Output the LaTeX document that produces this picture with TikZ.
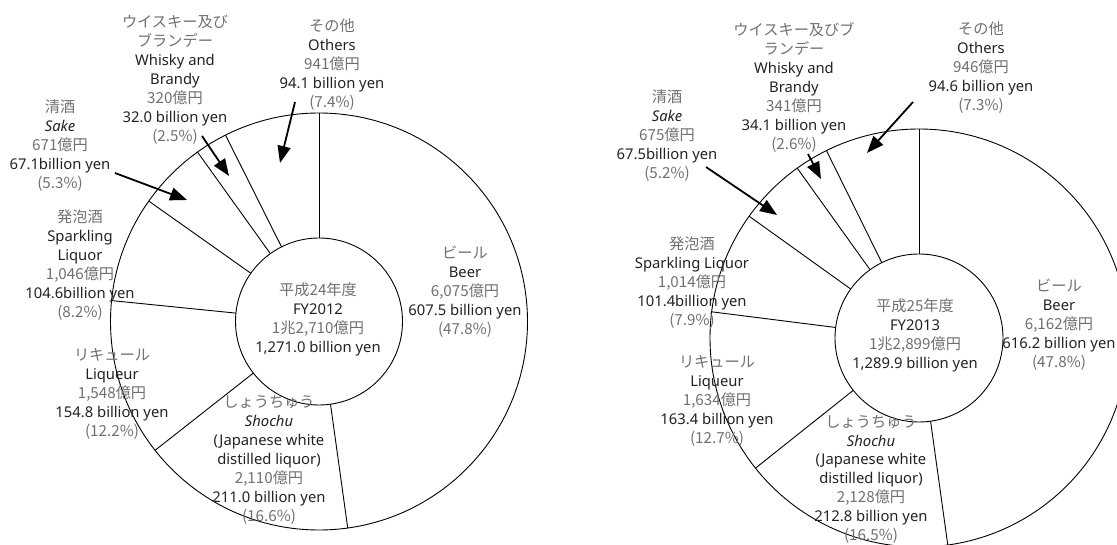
\documentclass[tikz,border=0pt]{standalone}
\usepackage{fontspec}
\setmainfont{Noto Sans}
\newfontfamily\cjk{Noto Sans CJK JP}
\usetikzlibrary{arrows.meta}
\definecolor{entext}{HTML}{222222}
\definecolor{jptext}{HTML}{707070}
\newcommand\jp[1]{{\cjk\fontsize{15.2}{19}\selectfont\color{jptext}#1}}
\begin{document}
\begin{tikzpicture}[x=1pt,y=1pt,
  lbl/.style={align=center, inner sep=0pt, font=\fontsize{14.8}{19}\selectfont, text=entext},
  ring/.style={line width=0.9pt},
  sep/.style={line width=0.9pt},
  callout/.style={line width=1.8pt, -{Triangle[length=17pt,width=13pt]}}]
\useasboundingbox (0,0) rectangle (1117,544);
\clip (0,0) rectangle (1117,544);

% ---------------- FY2012 ----------------
\coordinate (c1) at (319,222.5);
\draw[ring] (c1) circle[radius=208.5];
\draw[ring] (c1) circle[radius=83.5];
\foreach \a in {90,-82.08,-141.84,-185.76,-215.28,-234.36,-243.36}
  \draw[sep, shift={(c1)}] (\a:83.5) -- (\a:208.5);

\node[lbl] (center1) at (318,225) {\jp{平成24年度}\\FY2012\\\jp{1兆2,710億円}\\1,271.0 billion yen};
\node[lbl] (beer1) at (465,252.5) {\jp{ビール}\\Beer\\\jp{6,075億円}\\607.5 billion yen\\\jp{(47.8\%)}};
\node[lbl] (shochu1) at (269,84.5) {\jp{しょうちゅう}\\\textit{Shochu}\\(Japanese white\\distilled liquor)\\\jp{2,110億円}\\211.0 billion yen\\\jp{(16.6\%)}};
\node[lbl] (liqueur1) at (112,150.5) {\jp{リキュール}\\Liqueur\\\jp{1,548億円}\\154.8 billion yen\\\jp{(12.2\%)}};
\node[lbl] (spark1) at (80,279) {\jp{発泡酒}\\Sparkling\\Liquor\\\jp{1,046億円}\\104.6billion yen\\\jp{(8.2\%)}};
\node[lbl] (sake1) at (60,398) {\jp{清酒}\\\textit{Sake}\\\jp{671億円}\\67.1billion yen\\\jp{(5.3\%)}};
\node[lbl] (whisky1) at (175,464) {\jp{ウイスキー及び}\\\jp{ブランデー}\\Whisky and\\Brandy\\\jp{320億円}\\32.0 billion yen\\\jp{(2.5\%)}};
\node[lbl] (others1) at (332,479) {\jp{その他}\\Others\\\jp{941億円}\\94.1 billion yen\\\jp{(7.4\%)}};

\coordinate (sake1a) at (115,371);   \coordinate (sake1b) at (187,344);
\coordinate (whisky1a) at (202,408); \coordinate (whisky1b) at (229,368);
\coordinate (others1a) at (295,442); \coordinate (others1b) at (280,381);
\draw[callout] (sake1a) -- (sake1b);
\draw[callout] (whisky1a) -- (whisky1b);
\draw[callout] (others1a) -- (others1b);

% ---------------- FY2013 ----------------
\coordinate (c2) at (919,206);
\draw[ring] (c2) circle[radius=209];
\draw[ring] (c2) circle[radius=84];
\foreach \a in {90,-82.08,-141.48,-187.2,-215.64,-234.36,-243.72}
  \draw[sep, shift={(c2)}] (\a:84) -- (\a:209);

\node[lbl] (center2) at (915,209) {\jp{平成25年度}\\FY2013\\\jp{1兆2,899億円}\\1,289.9 billion yen};
\node[lbl] (beer2) at (1059,219) {\jp{ビール}\\Beer\\\jp{6,162億円}\\616.2 billion yen\\\jp{(47.8\%)}};
\node[lbl] (shochu2) at (871,64.5) {\jp{しょうちゅう}\\\textit{Shochu}\\(Japanese white\\distilled liquor)\\\jp{2,128億円}\\212.8 billion yen\\\jp{(16.5\%)}};
\node[lbl] (liqueur2) at (717,143) {\jp{リキュール}\\Liqueur\\\jp{1,634億円}\\163.4 billion yen\\\jp{(12.7\%)}};
\node[lbl] (spark2) at (692,261.5) {\jp{発泡酒}\\Sparkling Liquor\\\jp{1,014億円}\\101.4billion yen\\\jp{(7.9\%)}};
\node[lbl] (sake2) at (667,408.5) {\jp{清酒}\\\textit{Sake}\\\jp{675億円}\\67.5billion yen\\\jp{(5.2\%)}};
\node[lbl] (whisky2) at (794,457) {\jp{ウイスキー及びブ}\\\jp{ランデー}\\Whisky and\\Brandy\\\jp{341億円}\\34.1 billion yen\\\jp{(2.6\%)}};
\node[lbl] (others2) at (981,476) {\jp{その他}\\Others\\\jp{946億円}\\94.6 billion yen\\\jp{(7.3\%)}};

\coordinate (sake2a) at (706,377);   \coordinate (sake2b) at (777,329);
\coordinate (whisky2a) at (808,390); \coordinate (whisky2b) at (821,365);
\coordinate (others2a) at (913,442); \coordinate (others2b) at (867,391);
\draw[callout] (sake2a) -- (sake2b);
\draw[callout] (whisky2a) -- (whisky2b);
\draw[callout] (others2a) -- (others2b);
\end{tikzpicture}
\end{document}
